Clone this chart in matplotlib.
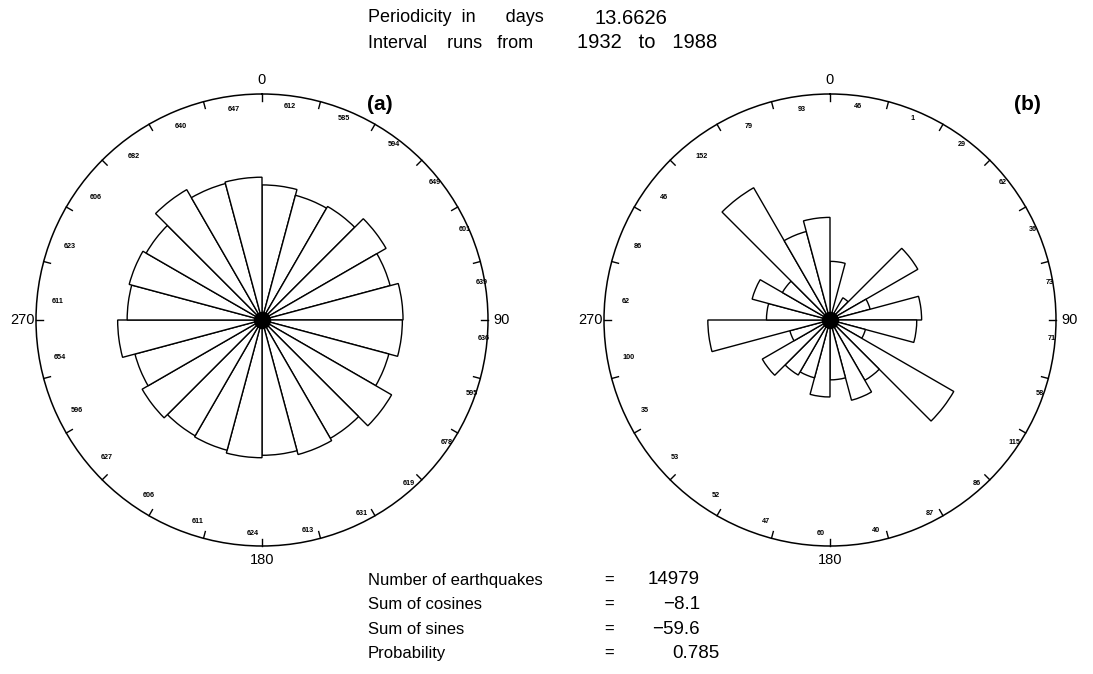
import numpy as np
import matplotlib.pyplot as plt

plt.rcParams['font.family'] = ['Liberation Sans', 'DejaVu Sans']

# --------------------------
# Data: 24 phase bins of 15 degrees, clockwise from 0
# --------------------------
bin_start = np.arange(0, 360, 15)

# (a) all earthquakes per bin
counts_a = [612, 585, 594, 649, 601, 639, 636, 595, 678, 619, 631, 613,
            624, 611, 606, 627, 596, 654, 611, 623, 606, 682, 640, 647]

# (b) bar heights and the counts printed round the circle
rose_b = [48, 4, 21, 83, 34, 75, 71, 30, 117, 57, 68, 49,
          63, 49, 52, 64, 34, 100, 52, 66, 45, 125, 75, 84]
labels_b = ['46', '1', '29', '62', '36', '73', '71', '58', '115', '86', '87', '40',
            '60', '47', '52', '53', '35', '100', '62', '86', '46', '152', '79', '93']

header_names = ["Periodicity  in      days", "Interval    runs   from"]
header_values = ["13.6626", "1932   to   1988"]
stats_names = ["Number of earthquakes", "Sum of cosines", "Sum of sines", "Probability"]
stats_values = ["14979", "\u22128.1", "\u221259.6", "0.785"]

W, H = 1093, 674


def px(x, y):
    return x / W, 1 - y / H


def rose(ax, heights, labels, rmax):
    ax.set_theta_zero_location('N')
    ax.set_theta_direction(-1)
    theta = np.deg2rad(bin_start)
    ax.bar(theta, heights, width=np.deg2rad(15), align='edge',
           color='white', edgecolor='black', linewidth=1.0, zorder=2)
    ax.plot([0], [0], 'o', color='black', ms=11.5, zorder=3)
    ax.set_ylim(0, rmax)
    ax.set_yticks([])
    ax.grid(False)
    ax.set_xticks(theta)
    ax.set_xticklabels([str(a) if a % 90 == 0 else '' for a in bin_start], fontsize=10.5)
    ax.tick_params(axis='x', length=0, pad=3)
    ax.spines['polar'].set_linewidth(1.1)
    # inward tick marks on the rim
    for th in theta:
        ax.plot([th, th], [rmax, rmax * (1 - 7 / 226)], color='black', lw=1.0,
                clip_on=False, zorder=4)
    for th, lab in zip(bin_start, labels):
        ax.annotate(lab, xy=(np.deg2rad(th + 5), rmax * 0.947), xytext=(6.5, 0),
                    textcoords='offset points', ha='center', va='center',
                    fontsize=5.2, fontweight='bold')


fig = plt.figure(figsize=(W / 100, H / 100), dpi=100)

R = 226
ax_a = fig.add_axes([(262 - R) / W, 1 - (320 + R) / H, 2 * R / W, 2 * R / H], projection='polar')
ax_b = fig.add_axes([(830 - R) / W, 1 - (320 + R) / H, 2 * R / W, 2 * R / H], projection='polar')

rose(ax_a, counts_a, [str(c) for c in counts_a], 1024)
rose(ax_b, rose_b, labels_b, 185)

fig.text(*px(380, 105), "(a)", fontsize=15, fontweight='bold', ha='center', va='center')
fig.text(*px(1027, 105), "(b)", fontsize=15, fontweight='bold', ha='center', va='center')

# header lines
for i, (name, val) in enumerate(zip(header_names, header_values)):
    y = 18 + i * 25
    fig.text(*px(368, y), name, fontsize=13, ha='left', va='center')
    fig.text(*px(577 if i else 594, y), val, fontsize=14.5, ha='left', va='center')

# statistics below the roses
for i, (name, val) in enumerate(zip(stats_names, stats_values)):
    y = 580 + i * 24.5
    fig.text(*px(368, y), name, fontsize=12, ha='left', va='center')
    fig.text(*px(609, y), "=", fontsize=12, ha='center', va='center')
    if i < 3:
        fig.text(*px(700, y), val, fontsize=13.5, ha='right', va='center')
    else:
        fig.text(*px(672, y), val, fontsize=13.5, ha='left', va='center')

fig.savefig('out.png', dpi=100, facecolor='white')
